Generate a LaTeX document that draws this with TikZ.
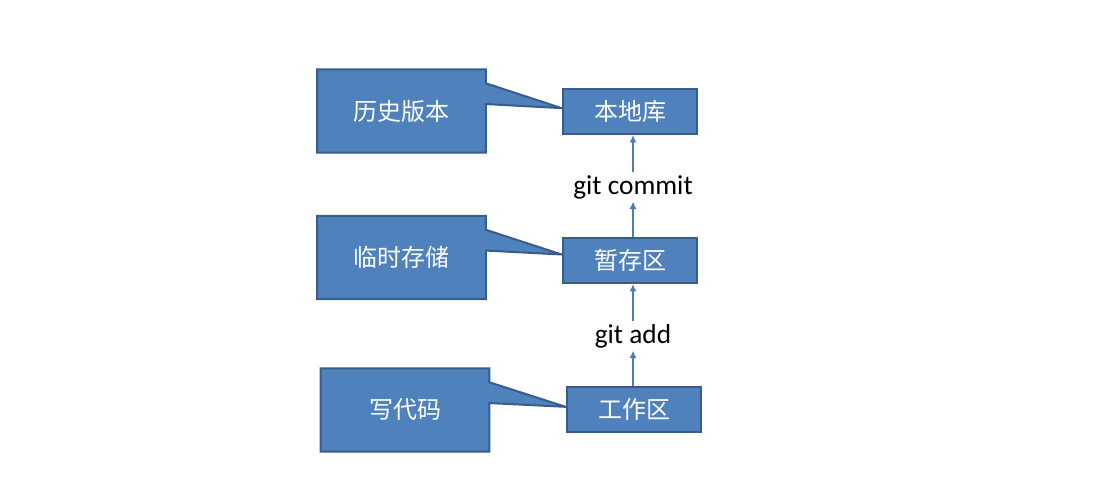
\documentclass[tikz,border=0pt]{standalone}
\usepackage{fontspec}
\setmainfont{Carlito}
\newfontfamily\cjk{Noto Sans CJK SC}
\usetikzlibrary{arrows.meta,calc,backgrounds}

\definecolor{boxfill}{HTML}{4F81BD}
\definecolor{boxline}{HTML}{385D8A}
\definecolor{flowline}{HTML}{4A7EBB}

\begin{document}
\begin{tikzpicture}[x=0.75pt,y=-0.75pt,
    stagebox/.style={draw=boxline,fill=boxfill,line width=1.5pt,inner sep=0pt,
        minimum width=101pt,minimum height=34pt,text=white,font=\cjk\fontsize{18}{20}\selectfont},
    notebox/.style={inner sep=0pt,minimum width=126pt,minimum height=62pt,
        text=white,font=\cjk\fontsize{18}{20}\selectfont},
    callout/.style={draw=boxline,fill=boxfill,line width=1.5pt,line join=miter},
    cmd/.style={inner sep=2pt,font=\fontsize{20.5}{22}\selectfont},
    flow/.style={draw=flowline,line width=1.4pt,-{Latex[length=5.5pt,width=5.5pt]}}]

    \useasboundingbox (0,0) rectangle (1117,491);

    % stages
    \node[stagebox] (repo) at (630,111.5) {本地库};
    \node[stagebox] (stage) at (630,260.5) {暂存区};
    \node[stagebox] (work) at (634,409.5) {工作区};

    % git commands
    \node[cmd] (commit) at (633,187) {git commit};
    \node[cmd] (add) at (633,336) {git add};

    \draw[flow] (stage.north -| commit) -- (commit);
    \draw[flow] (commit) -- (repo.south -| commit);
    \draw[flow] (work.north -| add) -- (add);
    \draw[flow] (add) -- (stage.south -| add);

    % callouts
    \node[notebox] (hist) at (401.5,111) {历史版本};
    \node[notebox] (temp) at (401.5,257.5) {临时存储};
    \node[notebox] (code) at (405,410) {写代码};

    \begin{scope}[on background layer]
    \foreach \n/\t/\s in {hist/repo/2.5pt,temp/stage/4.5pt,code/work/2pt}{
        \filldraw[callout] (\n.north west) -- (\n.north east)
            -- ($(\n.north east)!2/12!(\n.south east)$) -- ([yshift=\s]\t.west)
            -- ($(\n.north east)!5/12!(\n.south east)$)
            -- (\n.south east) -- (\n.south west) -- cycle;
    }
    \end{scope}

\end{tikzpicture}
\end{document}
